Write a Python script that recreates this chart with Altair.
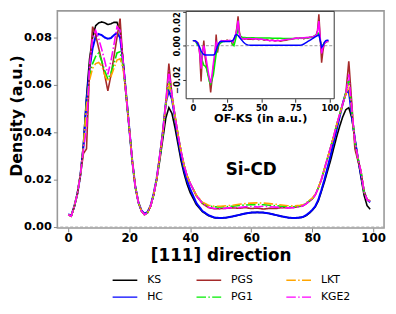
import altair as alt
import pandas as pd

# ---------------- data ----------------
X = list(range(0, 41)) + list(range(42, 77, 2)) + list(range(77, 100))

KS = [0.0052, 0.0046, 0.0085, 0.014, 0.022, 0.035, 0.055, 0.071, 0.080, 0.085,
      0.0862, 0.0866, 0.0862, 0.0855, 0.0858, 0.0864, 0.0864, 0.083, 0.070, 0.056,
      0.042, 0.028, 0.017, 0.0105, 0.0068, 0.0055, 0.0062, 0.0088, 0.0135, 0.020,
      0.028, 0.037, 0.046, 0.0504, 0.048, 0.042, 0.035, 0.028, 0.0225, 0.018, 0.0145,
      0.0095, 0.0065, 0.0048, 0.0039, 0.0038, 0.0040, 0.0045, 0.0051, 0.0057, 0.0061,
      0.0062, 0.0061, 0.0057, 0.0051, 0.0045, 0.0040, 0.0038, 0.0040,
      0.0042, 0.0048, 0.0058, 0.0070, 0.0085, 0.011, 0.015, 0.019, 0.0235, 0.028,
      0.033, 0.038, 0.0425, 0.0465, 0.0495, 0.0504, 0.046, 0.037, 0.029, 0.021,
      0.0135, 0.009, 0.0075]

HC = [0.0054, 0.0048, 0.0088, 0.014, 0.022, 0.034, 0.053, 0.067, 0.0755, 0.0805,
      0.0815, 0.081, 0.080, 0.0795, 0.0798, 0.081, 0.082, 0.080, 0.0695, 0.056,
      0.042, 0.028, 0.017, 0.0105, 0.007, 0.0056, 0.0063, 0.009, 0.014, 0.0205,
      0.0295, 0.040, 0.0525, 0.0575, 0.054, 0.046, 0.0375, 0.030, 0.024, 0.0195, 0.016,
      0.0102, 0.0068, 0.0050, 0.0040, 0.0038, 0.0040, 0.0045, 0.0051, 0.0057, 0.0061,
      0.0062, 0.0061, 0.0057, 0.0051, 0.0045, 0.0040, 0.0038, 0.0040,
      0.0043, 0.0050, 0.0060, 0.0072, 0.0088, 0.0115, 0.0155, 0.020, 0.025, 0.030,
      0.0355, 0.041, 0.0465, 0.052, 0.0565, 0.0575, 0.047, 0.037, 0.029, 0.022,
      0.015, 0.0115, 0.0105]

PGS = [0.0052, 0.0046, 0.0088, 0.014, 0.022, 0.031, 0.033, 0.066, 0.0846, 0.081,
       0.0755, 0.070, 0.064, 0.0575, 0.064, 0.072, 0.080, 0.088, 0.069, 0.055,
       0.042, 0.028, 0.017, 0.0105, 0.0068, 0.0052, 0.006, 0.0088, 0.0135, 0.020,
       0.030, 0.040, 0.052, 0.069, 0.056, 0.047, 0.039, 0.032, 0.026, 0.0215, 0.0185,
       0.0132, 0.0099, 0.0082, 0.0077, 0.0078, 0.0079, 0.0081, 0.0079, 0.0082, 0.0078,
       0.0080, 0.0076, 0.0079, 0.0078, 0.0082, 0.0081, 0.0083, 0.0087,
       0.0090, 0.0098, 0.0108, 0.0118, 0.0135, 0.0165, 0.020, 0.0245, 0.029, 0.0335,
       0.038, 0.043, 0.0475, 0.052, 0.056, 0.070, 0.052, 0.033, 0.028, 0.0235,
       0.015, 0.0115, 0.011]

PG1 = [0.0052, 0.0046, 0.0088, 0.014, 0.022, 0.034, 0.052, 0.064, 0.069, 0.072,
       0.0735, 0.070, 0.066, 0.0625, 0.065, 0.069, 0.0735, 0.074, 0.068, 0.056,
       0.042, 0.028, 0.017, 0.0105, 0.0068, 0.0052, 0.006, 0.0088, 0.0135, 0.020,
       0.029, 0.039, 0.052, 0.062, 0.0555, 0.047, 0.039, 0.032, 0.026, 0.0215, 0.0185,
       0.0135, 0.0103, 0.0089, 0.0085, 0.0085, 0.0086, 0.0088, 0.0091, 0.0093, 0.0094,
       0.0095, 0.0094, 0.0092, 0.0090, 0.0088, 0.0086, 0.0086, 0.0089,
       0.0092, 0.0100, 0.0110, 0.0120, 0.0136, 0.0166, 0.020, 0.0245, 0.029, 0.0335,
       0.038, 0.043, 0.0475, 0.052, 0.0565, 0.062, 0.049, 0.036, 0.029, 0.0235,
       0.015, 0.0115, 0.011]

LKT = [0.0052, 0.0046, 0.0088, 0.014, 0.022, 0.034, 0.051, 0.062, 0.067, 0.069,
       0.0695, 0.068, 0.064, 0.0615, 0.0635, 0.067, 0.0705, 0.071, 0.067, 0.056,
       0.042, 0.028, 0.017, 0.0105, 0.0068, 0.0052, 0.006, 0.0088, 0.0135, 0.020,
       0.029, 0.039, 0.052, 0.0605, 0.055, 0.047, 0.039, 0.032, 0.026, 0.0215, 0.0185,
       0.0135, 0.0105, 0.0092, 0.0088, 0.0088, 0.0090, 0.0092, 0.0096, 0.0099, 0.0101,
       0.0102, 0.0101, 0.0099, 0.0096, 0.0093, 0.0090, 0.0089, 0.0092,
       0.0094, 0.0102, 0.0112, 0.0122, 0.0138, 0.0167, 0.020, 0.0245, 0.029, 0.0335,
       0.038, 0.043, 0.0475, 0.052, 0.056, 0.060, 0.049, 0.036, 0.029, 0.0235,
       0.015, 0.0115, 0.011]

KGE2 = [0.0052, 0.0046, 0.0088, 0.014, 0.022, 0.033, 0.0415, 0.068, 0.080, 0.083,
        0.0795, 0.075, 0.070, 0.0645, 0.070, 0.077, 0.0845, 0.083, 0.070, 0.056,
        0.042, 0.028, 0.017, 0.0105, 0.0068, 0.0052, 0.006, 0.0088, 0.0135, 0.020,
        0.030, 0.0395, 0.0525, 0.066, 0.056, 0.047, 0.039, 0.032, 0.026, 0.0215, 0.0185,
        0.0133, 0.0100, 0.0084, 0.0078, 0.0077, 0.0080, 0.0083, 0.0082, 0.0086, 0.0087,
        0.0085, 0.0088, 0.0086, 0.0084, 0.0082, 0.0081, 0.0082, 0.0086,
        0.0090, 0.0098, 0.0108, 0.0118, 0.0135, 0.0165, 0.020, 0.0245, 0.029, 0.0335,
        0.038, 0.043, 0.0475, 0.052, 0.056, 0.0645, 0.050, 0.036, 0.029, 0.0235,
        0.015, 0.0115, 0.011]

# inset: OF - KS
HC_D = [0.003, 0.003, 0.0028, 0.002, 0.0005, -0.001, -0.003, -0.0045, -0.0052, -0.0055,
        -0.0055, -0.0055, -0.0055, -0.0055, -0.0055, -0.0055, -0.005, -0.003, -0.0005, 0.0015,
        0.0025, 0.0025, 0.0025, 0.0025, 0.0025, 0.0025, 0.0025, 0.0025, 0.0027, 0.003,
        0.004, 0.0062, 0.0066, 0.006, 0.005, 0.004, 0.003, 0.002, 0.0013, 0.0008, 0.0005,
        0.0003, 0.0003, 0.0003, 0.0003, 0.0003, 0.0003, 0.0003, 0.0003, 0.0003, 0.0003,
        0.0003, 0.0003, 0.0003, 0.0003, 0.0003, 0.0003, 0.0003, 0.0003,
        0.0003, 0.0003, 0.0004, 0.0006, 0.001, 0.0015, 0.002, 0.0025, 0.003, 0.0035,
        0.004, 0.0045, 0.005, 0.0055, 0.006, 0.0065, 0.003, -0.001, 0.0, 0.002,
        0.003, 0.0032, 0.0032]

PGS_D = [0.003, 0.003, 0.0025, 0.002, 0.0015, -0.005, -0.021, -0.005, 0.003, -0.007,
         -0.012, -0.017, -0.019, -0.0275, -0.020, -0.0125, -0.0075, 0.0066, -0.004, 0.001,
         0.002, 0.0025, 0.003, 0.003, 0.0028, 0.0033, 0.003, 0.003, 0.003, 0.0003,
         0.004, 0.005, 0.010, 0.0173, 0.008, 0.0045, 0.004, 0.0042, 0.0038, 0.0042, 0.0038,
         0.0040, 0.0036, 0.0042, 0.0035, 0.0040, 0.0033, 0.0037, 0.0030, 0.0034, 0.0028,
         0.0032, 0.0026, 0.0030, 0.0032, 0.0036, 0.0038, 0.0042, 0.0045,
         0.0042, 0.0047, 0.0043, 0.0046, 0.0040, 0.0045, 0.0048, 0.0045, 0.0050, 0.0048,
         0.0052, 0.0050, 0.0055, 0.0060, 0.0090, 0.0185, 0.005, -0.010, -0.003, 0.0015,
         0.002, 0.003, 0.003]

PG1_D = [0.003, 0.003, 0.0025, 0.001, 0.0, -0.0025, -0.006, -0.009, -0.0115, -0.012,
         -0.0135, -0.017, -0.021, -0.0225, -0.020, -0.017, -0.011, -0.005, -0.0015, 0.0005,
         0.0015, 0.002, 0.0025, 0.0025, 0.003, 0.003, 0.003, 0.003, 0.0025, 0.001,
         0.0, 0.003, 0.0065, 0.0098, 0.007, 0.0055, 0.005, 0.0048, 0.0048, 0.0047, 0.0047,
         0.0047, 0.0047, 0.0046, 0.0046, 0.0046, 0.0045, 0.0045, 0.0045, 0.0044, 0.0044,
         0.0044, 0.0044, 0.0043, 0.0043, 0.0043, 0.0043, 0.0043, 0.0043,
         0.0043, 0.0044, 0.0044, 0.0045, 0.0045, 0.0046, 0.0046, 0.0047, 0.0048, 0.0050,
         0.0052, 0.0055, 0.0060, 0.0065, 0.0070, 0.0075, 0.003, 0.0, 0.0005, 0.0015,
         0.002, 0.0025, 0.0025]

KGE2_D = [0.003, 0.003, 0.0025, 0.002, 0.001, -0.004, -0.0135, -0.004, 0.0, -0.004,
          -0.009, -0.014, -0.019, -0.022, -0.017, -0.010, -0.004, 0.002, 0.0, 0.0015,
          0.0025, 0.003, 0.0028, 0.003, 0.003, 0.003, 0.003, 0.0032, 0.003, 0.002,
          0.004, 0.006, 0.009, 0.0148, 0.007, 0.0045, 0.0042, 0.004, 0.0043, 0.004, 0.0042,
          0.0042, 0.0039, 0.0042, 0.0038, 0.0040, 0.0036, 0.0033, 0.0030, 0.0032, 0.0028,
          0.0030, 0.0031, 0.0034, 0.0036, 0.0038, 0.0040, 0.0043, 0.0045,
          0.0044, 0.0046, 0.0045, 0.0047, 0.0046, 0.0048, 0.0047, 0.0050, 0.0049, 0.0052,
          0.0052, 0.0055, 0.0058, 0.0062, 0.0085, 0.0145, 0.004, -0.0045, -0.001, 0.0015,
          0.002, 0.0025, 0.0025]

DRAW_ORDER = ["KS", "HC", "PGS", "PG1", "LKT", "KGE2"]
LEGEND_ORDER = ["KS", "HC", "PGS", "PG1", "LKT", "KGE2"]
COLORS = {"KS": "#000000", "HC": "#0000ff", "PGS": "#a52a2a",
          "PG1": "#00ee00", "LKT": "#ffa500", "KGE2": "#ff00ff"}
DASHED = {"KS": False, "HC": False, "PGS": False, "PG1": True, "LKT": True, "KGE2": True}
MAIN = {"KS": KS, "HC": HC, "PGS": PGS, "PG1": PG1, "LKT": LKT, "KGE2": KGE2}
INSET = {"HC": HC_D, "PGS": PGS_D, "PG1": PG1_D, "KGE2": KGE2_D}
INSET_ORDER = ["PGS", "PG1", "KGE2", "HC"]

X_TICKS = [0, 20, 40, 60, 80, 100]
Y_TICKS = [0.0, 0.02, 0.04, 0.06, 0.08]
IX_TICKS = [0, 25, 50, 75, 100]
IY_TICKS = [-0.02, 0.0, 0.02]
LABEL = ["Si-CD"]
LABEL_X = [60]
LABEL_Y = [0.0242]

MX_DOM = [-3.56, 103.56]
MY_DOM = [-0.00042, 0.09125]
IX_DOM = [-4.9, 103.2]
IY_DOM = [-0.0312, 0.0202]

W, H = 331, 220
FONT = "DejaVu Sans"

# ---------------- scales / axes ----------------
color_scale = alt.Scale(domain=LEGEND_ORDER, range=[COLORS[k] for k in LEGEND_ORDER])
DD = [9.6, 2.4, 1.5, 2.4]
dash_scale = alt.Scale(domain=LEGEND_ORDER,
                       range=[DD if DASHED[k] else [1, 0] for k in LEGEND_ORDER])

leg = alt.Legend(orient="none", legendX=62.5, legendY=267, columns=3, title=None,
                 symbolType="M-2.5,0H2.5", symbolSize=100, symbolStrokeWidth=1.5,
                 labelFont=FONT, labelFontSize=11, labelColor="black",
                 labelOffset=16.5, columnPadding=30, rowPadding=6, padding=0)

mx_scale = alt.Scale(domain=MX_DOM, nice=False, zero=False)
my_scale = alt.Scale(domain=MY_DOM, nice=False, zero=False)
mx_axis = alt.Axis(values=X_TICKS, format="d", title="[111] direction", grid=False,
                   domain=False, tickColor="#888888", tickSize=4, labelPadding=1,
                   labelFont=FONT, labelFontSize=12, labelFontWeight="bold",
                   labelColor="black", titleFont=FONT, titleFontSize=17,
                   titleFontWeight="bold", titleColor="black", titlePadding=4)
my_axis = alt.Axis(values=Y_TICKS, format=".2f", title="Density (a.u.)", grid=False,
                   domain=False, tickColor="#888888", tickSize=4, labelPadding=2,
                   labelFont=FONT, labelFontSize=11.5, labelFontWeight="bold",
                   labelColor="black", titleFont=FONT, titleFontSize=16,
                   titleFontWeight="bold", titleColor="black",
                   titleX=-36.5, titleY=106, titleBaseline="alphabetic", titleAlign="center")

INS_L, INS_R, INS_T, INS_B = 130.5, 280.5, 0.5, 89
ix_scale = alt.Scale(domain=IX_DOM, range=[INS_L, INS_R], nice=False, zero=False)
iy_scale = alt.Scale(domain=IY_DOM, range=[INS_B, INS_T], nice=False, zero=False)
ix_axis = alt.Axis(orient="bottom", offset=-(H - INS_B), values=IX_TICKS, format="d",
                   title="OF-KS (in a.u.)", grid=False, domain=False,
                   tickColor="#333333", tickSize=3.5, labelPadding=1,
                   labelFont=FONT, labelFontSize=8.5, labelFontWeight="bold",
                   labelColor="black", titleFont=FONT, titleFontSize=11.5,
                   titleFontWeight="bold", titleColor="black", titlePadding=1.5)
iy_axis = alt.Axis(orient="left", offset=-INS_L, values=IY_TICKS, format=".2f",
                   title=None, grid=False, domain=False, tickColor="#333333",
                   tickSize=3.5, labelPadding=1, labelAngle=270,
                   labelAlign={"condition": {"test": "datum.value > 0.01", "value": "right"},
                               "value": "center"},
                   labelBaseline="bottom", labelFont=FONT,
                   labelFontSize=8.5, labelFontWeight="bold", labelColor="black")

# ---------------- main panel ----------------
main_layers = []
for name in DRAW_ORDER:
    df = pd.DataFrame({"x": X, "y": MAIN[name], "method": name})
    main_layers.append(
        alt.Chart(df).mark_line(strokeWidth=2.0 if name == "HC" else 1.6).encode(
            x=alt.X("x:Q", scale=mx_scale, axis=mx_axis),
            y=alt.Y("y:Q", scale=my_scale, axis=my_axis),
            color=alt.Color("method:N", scale=color_scale, legend=leg),
            strokeDash=alt.StrokeDash("method:N", scale=dash_scale, legend=leg),
        )
    )

zero_main = alt.Chart(pd.DataFrame({"y": [0.0]})).mark_rule(
    color="#aaaaaa", strokeDash=[3, 2], strokeWidth=1).encode(
    y=alt.Y("y:Q", scale=my_scale, axis=my_axis))

label = alt.Chart(pd.DataFrame({"x": LABEL_X, "y": LABEL_Y, "t": LABEL})).mark_text(
    font=FONT, fontSize=17, fontWeight="bold", color="black", baseline="middle",
    align="center").encode(
    x=alt.X("x:Q", scale=mx_scale, axis=mx_axis),
    y=alt.Y("y:Q", scale=my_scale, axis=my_axis),
    text="t:N")

main = alt.layer(*main_layers, zero_main, label)

# ---------------- inset ----------------
box = alt.Chart(pd.DataFrame({"x": [IX_DOM[0]], "x2": [IX_DOM[1]],
                              "y": [IY_DOM[0]], "y2": [IY_DOM[1]]})).mark_rect(
    fill="white", stroke="#333333", strokeWidth=1).encode(
    x=alt.X("x:Q", scale=ix_scale, axis=ix_axis), x2="x2:Q",
    y=alt.Y("y:Q", scale=iy_scale, axis=iy_axis), y2="y2:Q")

zero_in = alt.Chart(pd.DataFrame({"x": [IX_DOM[0]], "x2": [IX_DOM[1]], "y": [0.0]})).mark_rule(
    color="#999999", strokeDash=[3, 2], strokeWidth=1).encode(
    x=alt.X("x:Q", scale=ix_scale, axis=ix_axis), x2="x2:Q",
    y=alt.Y("y:Q", scale=iy_scale, axis=iy_axis))

inset_layers = []
for name in INSET_ORDER:
    df = pd.DataFrame({"x": X, "y": INSET[name], "method": name})
    inset_layers.append(
        alt.Chart(df).mark_line(strokeWidth=1.5).encode(
            x=alt.X("x:Q", scale=ix_scale, axis=ix_axis),
            y=alt.Y("y:Q", scale=iy_scale, axis=iy_axis),
            color=alt.Color("method:N", scale=color_scale, legend=leg),
        )
    )

inset = alt.layer(box, zero_in, *inset_layers)

chart = alt.layer(main, inset).resolve_scale(
    x="independent", y="independent", color="shared", strokeDash="shared"
).resolve_axis(x="independent", y="independent").properties(
    width=W, height=H, autosize=alt.AutoSizeParams(type="none"),
    padding={"left": 50, "top": 1, "right": 4, "bottom": 73}
).configure(font=FONT).configure_view(stroke="#999999", strokeWidth=1.6)

chart.save("out.html", embed_options={"renderer": "svg", "actions": False})
